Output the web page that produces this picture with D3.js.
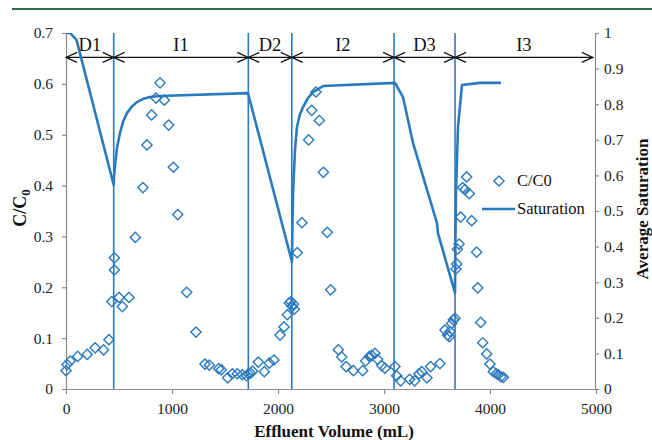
<!DOCTYPE html>
<html><head><meta charset="utf-8">
<script src="https://cdn.jsdelivr.net/npm/d3@7"></script>
</head><body style="margin:0"><svg id="c" width="652" height="440"></svg>
<script>
// C/C0 measurements: effluent volume (mL)
const ccVolume = [0,10,40,110,200,275,355,405,431,456,456,500,531,594,654,726,764,808,849,887,928,969,1013,1054,1139,1226,1311,1352,1440,1465,1525,1569,1616,1663,1704,1720,1742,1760,1814,1871,1918,1962,2019,2057,2088,2107,2120,2135,2145,2154,2182,2226,2289,2318,2358,2390,2428,2465,2497,2569,2601,2642,2711,2799,2827,2862,2885,2915,2940,2978,3009,3104,3119,3157,3242,3290,3330,3356,3405,3440,3528,3575,3600,3616,3623,3638,3654,3670,3679,3686,3692,3708,3723,3742,3764,3780,3805,3827,3874,3884,3912,3931,3969,4000,4031,4060,4078,4104,4127];
const ccValue = [0.036,0.048,0.055,0.064,0.068,0.081,0.077,0.097,0.172,0.234,0.258,0.180,0.162,0.180,0.298,0.396,0.480,0.539,0.572,0.602,0.568,0.519,0.436,0.343,0.190,0.112,0.049,0.047,0.040,0.038,0.022,0.030,0.030,0.028,0.026,0.030,0.031,0.035,0.053,0.034,0.051,0.057,0.106,0.122,0.146,0.169,0.172,0.162,0.167,0.157,0.268,0.327,0.490,0.548,0.584,0.528,0.426,0.308,0.195,0.077,0.063,0.044,0.036,0.036,0.055,0.064,0.066,0.070,0.058,0.046,0.041,0.044,0.026,0.016,0.019,0.016,0.030,0.034,0.022,0.044,0.050,0.116,0.106,0.103,0.113,0.129,0.136,0.139,0.236,0.246,0.275,0.285,0.338,0.396,0.392,0.417,0.384,0.331,0.269,0.199,0.131,0.091,0.069,0.049,0.034,0.030,0.028,0.024,0.023];
// Average saturation line
const satVolume = [0,40,100,450,454,462,480,509,540,575,620,670,730,792,887,1717,2132,2136,2142,2160,2179,2205,2236,2280,2330,2425,3104,3179,3274,3500,3509,3670,3674,3679,3698,3736,3906,4104];
const satValue = [1.0,1.0,0.98,0.573,0.60,0.625,0.675,0.719,0.752,0.775,0.793,0.806,0.815,0.820,0.823,0.831,0.357,0.46,0.551,0.67,0.736,0.770,0.792,0.816,0.834,0.851,0.860,0.820,0.691,0.466,0.438,0.270,0.42,0.551,0.736,0.854,0.860,0.860];
// Stage boundaries
const stageBounds = [0,450,1720,2130,3095,3670,4970];
const stageLabels = ["D1","I1","D2","I2","D3","I3"];
const boundaryLines = [450,1720,2130,3095,3670];
const xTicks = [0,1000,2000,3000,4000,5000];
const yLeftTicks = [0,0.1,0.2,0.3,0.4,0.5,0.6,0.7];
const yRightTicks = [0,0.1,0.2,0.3,0.4,0.5,0.6,0.7,0.8,0.9,1];

const FF = "Liberation Serif";
const blue = "#2a7abf", axisCol = "#8c8c8c";
const svg = d3.select("#c");
const x = d3.scaleLinear([0,5000],[66,596]);
const yL = d3.scaleLinear([0,0.7],[389,33]);
const yR = d3.scaleLinear([0,1],[389,33]);
const txt = (sel, size, bold) => sel.style("font-family",FF).style("font-size",size+"px").style("font-weight",bold?"bold":"normal").attr("fill","#111");

// top green rule
svg.append("line").attr("x1",12).attr("x2",652).attr("y1",9).attr("y2",9)
  .attr("stroke","#2f6e45").attr("stroke-width",2.2);

svg.append("clipPath").attr("id","pc").append("rect").attr("x",66).attr("y",33).attr("width",530).attr("height",356);

const fmt = d => d===0?"0":(d===1?"1":d.toFixed(1));
const styleAxis = g => {
  g.attr("font-family",null).attr("font-size",null);
  g.select(".domain").attr("stroke",axisCol).attr("stroke-width",1.2);
  g.selectAll(".tick line").attr("stroke",axisCol).attr("stroke-width",1.2);
  g.selectAll(".tick text").call(txt,15.5,false).attr("fill","#222");
};
svg.append("g").attr("transform","translate(66,0)")
  .call(d3.axisLeft(yL).tickValues(yLeftTicks).tickFormat(fmt).tickSize(4).tickSizeOuter(0).tickPadding(9))
  .call(styleAxis);
svg.append("g").attr("transform","translate(595,0)")
  .call(d3.axisRight(yR).tickValues(yRightTicks).tickFormat(fmt).tickSize(4).tickSizeOuter(0).tickPadding(5))
  .call(styleAxis);
svg.append("g").attr("transform","translate(0,389)")
  .call(d3.axisBottom(x).tickValues(xTicks).tickFormat(d3.format("d")).tickSize(5).tickSizeOuter(0).tickPadding(9))
  .call(styleAxis);

// boundary vertical lines
svg.append("g").selectAll("line").data(boundaryLines).join("line")
  .attr("x1",d=>x(d)).attr("x2",d=>x(d)).attr("y1",yL(0.7)).attr("y2",yL(0))
  .attr("stroke",blue).attr("stroke-width",1.6);

// stage arrows
const ay = yL(0.652);
const ag = svg.append("g").attr("stroke","#111").attr("stroke-width",1.2).attr("fill","none");
for (let i=0;i<stageLabels.length;i++){
  const a = x(stageBounds[i]), b = x(stageBounds[i+1]);
  ag.append("line").attr("x1",a).attr("x2",b).attr("y1",ay).attr("y2",ay);
  ag.append("path").attr("d",`M${a+11},${ay-5}L${a},${ay}L${a+11},${ay+5}`);
  ag.append("path").attr("d",`M${b-11},${ay-5}L${b},${ay}L${b-11},${ay+5}`);
  svg.append("text").attr("x",(a+b)/2).attr("y",ay-6).attr("text-anchor","middle")
    .call(txt,18.5,false).text(stageLabels[i]);
}

// saturation line
const sat = satVolume.map((v,i)=>[v,satValue[i]]);
svg.append("path").datum(sat).attr("clip-path","url(#pc)")
  .attr("d",d3.line().x(d=>x(d[0])).y(d=>yR(d[1])))
  .attr("fill","none").attr("stroke",blue).attr("stroke-width",2.6).attr("stroke-linejoin","round");

// C/C0 markers
const sym = d3.symbol(d3.symbolSquare,52);
const cc = ccVolume.map((v,i)=>[v,ccValue[i]]);
svg.append("g").selectAll("path").data(cc).join("path")
  .attr("d",sym).attr("transform",d=>`translate(${x(d[0])},${yL(d[1])}) rotate(45)`)
  .attr("fill","none").attr("stroke",blue).attr("stroke-width",1.4);

// legend
svg.append("path").attr("d",sym).attr("transform","translate(499,181) rotate(45)")
  .attr("fill","none").attr("stroke",blue).attr("stroke-width",1.4);
svg.append("text").attr("x",517).attr("y",186).call(txt,16.5,false).text("C/C0");
svg.append("line").attr("x1",482).attr("x2",515).attr("y1",209).attr("y2",209).attr("stroke",blue).attr("stroke-width",2.6);
svg.append("text").attr("x",517).attr("y",214).call(txt,16.5,false).text("Saturation");

// axis titles
const yt = svg.append("text").attr("transform","translate(26,208) rotate(-90)").attr("text-anchor","middle").call(txt,18,true);
yt.append("tspan").text("C/C");
yt.append("tspan").attr("dy",4).style("font-size","13px").text("0");
svg.append("text").attr("transform","translate(648,209) rotate(-90)").attr("text-anchor","middle")
  .call(txt,17,true).text("Average Saturation");
svg.append("text").attr("x",334).attr("y",437).attr("text-anchor","middle")
  .call(txt,17,true).text("Effluent Volume (mL)");
</script></body></html>
